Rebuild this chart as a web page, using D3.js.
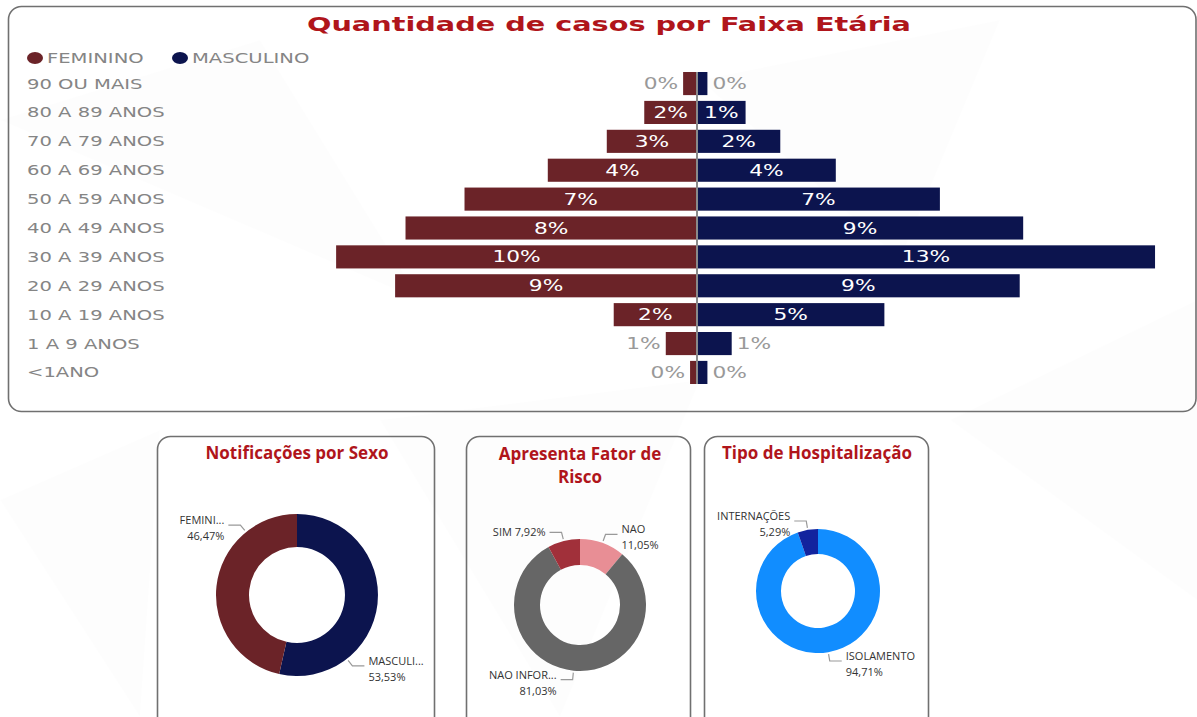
<!DOCTYPE html>
<html>
<head>
<meta charset="utf-8">
<script src="https://cdn.jsdelivr.net/npm/d3@7"></script>
<style>
  body { margin: 0; background: #fff; }
  svg { display: block; }
</style>
</head>
<body>
<script>
// pyramid data (percent of all cases)
var ageGroups = ['90 OU MAIS', '80 A 89 ANOS', '70 A 79 ANOS', '60 A 69 ANOS', '50 A 59 ANOS',
  '40 A 49 ANOS', '30 A 39 ANOS', '20 A 29 ANOS', '10 A 19 ANOS', '1 A 9 ANOS', '<1ANO']
var femPct = [0.4, 1.52, 2.6, 4.3, 6.7, 8.4, 10.4, 8.7, 2.4, 0.9, 0.2]
var mascPct = [0.3, 1.4, 2.4, 4.0, 7.0, 9.4, 13.2, 9.3, 5.4, 1.0, 0.3]
var sexSeries = ['FEMININO', 'MASCULINO']

// donut data
var sexNames = ['MASCULINO', 'FEMININO']
var sexShort = ['MASCULI...', 'FEMINI...']
var sexValues = [53.53, 46.47]

var riskNames = ['NAO', 'NAO INFORMADO', 'SIM']
var riskShort = ['NAO', 'NAO INFOR...', 'SIM']
var riskValues = [11.05, 81.03, 7.92]

var hospNames = ['ISOLAMENTO', 'INTERNAÇÕES']
var hospValues = [94.71, 5.29]

var FEM = '#6b2328', MASC = '#0c144e', TITLE = '#b0151b'
var W = 1197, H = 717

var svg = d3.select('body').append('svg').attr('width', W).attr('height', H)

// faint background shapes
var bg = svg.append('g').attr('fill', '#000')
;[[[0, 120], [260, 40], [420, 300]], [[700, 80], [1000, 20], [900, 260]], [[380, 420], [700, 380], [560, 717]],
  [[950, 420], [1197, 300], [1197, 600]], [[0, 500], [160, 430], [140, 717]]].forEach(function(p) {
  bg.append('polygon').attr('points', p.join(' ')).attr('opacity', 0.008)
})

function panel(x, y, w, h) {
  svg.append('rect')
    .attr('x', x).attr('y', y).attr('width', w).attr('height', h)
    .attr('rx', 13).attr('fill', 'none')
    .attr('stroke', '#707070').attr('stroke-width', 1.6)
}

// ---------- age pyramid ----------
panel(8.5, 6.5, 1187.5, 405)

svg.append('text')
  .attr('x', 307).attr('y', 31)
  .attr('textLength', 604).attr('lengthAdjust', 'spacingAndGlyphs')
  .attr('font-family', 'DejaVu Sans').attr('font-weight', 'bold').attr('font-size', 19)
  .attr('fill', TITLE)
  .text('Quantidade de casos por Faixa Etária')

var sx = 1.45
function wideText(g, x, y, txt, anchor, size, color) {
  return g.append('text')
    .attr('transform', 'translate(' + x + ',' + y + ') scale(' + sx + ',1)')
    .attr('text-anchor', anchor)
    .attr('font-family', 'DejaVu Sans').attr('font-size', size)
    .attr('fill', color)
    .text(txt)
}

// legend
var legend = svg.append('g')
var legendX = [35, 180]
sexSeries.forEach(function(s, i) {
  legend.append('ellipse').attr('cx', legendX[i]).attr('cy', 58).attr('rx', 8).attr('ry', 6)
    .attr('fill', i == 0 ? FEM : MASC)
  wideText(legend, legendX[i] + 12, 63, s, 'start', 13.5, '#858585')
})

var cx = 697
var y = d3.scaleBand().domain(ageGroups).range([72, 384]).paddingInner(0.2).paddingOuter(0)
var x = d3.scaleLinear().domain([0, 14]).range([0, 14 * 34.7])

var pyr = svg.append('g')

pyr.selectAll('text.cat')
  .data(ageGroups)
  .join(function(enter) { return enter.append('text') })
  .attr('class', 'cat')
  .attr('transform', function(d) { return 'translate(27,' + (y(d) + y.bandwidth() / 2 + 5) + ') scale(' + sx + ',1)' })
  .attr('font-family', 'DejaVu Sans').attr('font-size', 13.5)
  .attr('fill', '#858585')
  .text(function(d) { return d })

pyr.selectAll('rect.fem')
  .data(femPct)
  .join('rect')
  .attr('class', 'fem')
  .attr('x', function(d) { return cx - x(d) })
  .attr('y', function(d, i) { return y(ageGroups[i]) })
  .attr('width', function(d) { return x(d) })
  .attr('height', y.bandwidth())
  .attr('fill', FEM)

pyr.selectAll('rect.masc')
  .data(mascPct)
  .join('rect')
  .attr('class', 'masc')
  .attr('x', cx)
  .attr('y', function(d, i) { return y(ageGroups[i]) })
  .attr('width', function(d) { return x(d) })
  .attr('height', y.bandwidth())
  .attr('fill', MASC)

pyr.append('line')
  .attr('x1', cx).attr('x2', cx).attr('y1', 72).attr('y2', 384)
  .attr('stroke', '#8a8a8a').attr('stroke-width', 2)

function barLabels(values, side) {
  values.forEach(function(v, i) {
    var w = x(v)
    var inside = w > 40
    var ty = y(ageGroups[i]) + y.bandwidth() / 2 + 5.5
    var tx, anchor
    if (inside) { tx = cx + side * w / 2; anchor = 'middle' }
    else { tx = cx + side * (w + 5); anchor = side < 0 ? 'end' : 'start' }
    wideText(pyr, tx, ty, Math.round(v) + '%', anchor, 15, inside ? '#fff' : '#999')
  })
}
barLabels(femPct, -1)
barLabels(mascPct, 1)

// ---------- donuts ----------
var fmt = function(v) { return d3.format('.2f')(v).replace('.', ',') + '%' }
var rad = Math.PI / 180

function donut(opt) {
  var g = svg.append('g').attr('transform', 'translate(' + opt.cx + ',' + opt.cy + ')')
  var arcs = d3.pie().sort(null)(opt.values)
  var arc = d3.arc().innerRadius(opt.rIn).outerRadius(opt.rOut)
  g.selectAll('path')
    .data(arcs)
    .join('path')
    .attr('d', arc)
    .attr('fill', function(d, i) { return opt.colors[i] })

  arcs.forEach(function(a, i) {
    var ang = opt.angles && opt.angles[i] != null ? opt.angles[i] * rad : (a.startAngle + a.endAngle) / 2
    var r0 = opt.rOut + 2, r1 = opt.rOut + 9
    var p0 = [r0 * Math.sin(ang), -r0 * Math.cos(ang)]
    var p1 = [r1 * Math.sin(ang), -r1 * Math.cos(ang)]
    var dir = Math.sin(ang) >= 0 ? 1 : -1
    var p2 = [p1[0] + dir * 12, p1[1]]
    g.append('polyline')
      .attr('points', [p0, p1, p2].join(' '))
      .attr('fill', 'none').attr('stroke', '#999').attr('stroke-width', 1.2)
    var t = g.append('text')
      .attr('font-family', 'Open Sans').attr('font-size', 11).attr('fill', '#333')
      .attr('text-anchor', dir > 0 ? 'start' : 'end')
    var lx = p2[0] + dir * 4
    if (opt.oneLine && opt.oneLine[i]) {
      t.append('tspan').attr('x', lx).attr('y', p1[1] + 4).text(opt.labels[i] + ' ' + fmt(opt.values[i]))
    } else {
      t.append('tspan').attr('x', lx).attr('y', p1[1] - 1).text(opt.labels[i])
      t.append('tspan').attr('x', lx).attr('y', p1[1] + 15).text(fmt(opt.values[i]))
    }
  })
}

function cardTitle(lines, x, y0) {
  var t = svg.append('text')
    .attr('text-anchor', 'middle')
    .attr('font-family', 'Open Sans').attr('font-weight', 'bold').attr('font-size', 17)
    .attr('fill', TITLE)
  lines.forEach(function(l, i) {
    t.append('tspan').attr('x', x).attr('y', y0 + i * 23).text(l)
  })
}

panel(157.5, 436.5, 277, 300)
cardTitle(['Notificações por Sexo'], 297, 459)
donut({ cx: 297, cy: 595, rOut: 81, rIn: 48, values: sexValues, labels: sexShort,
  colors: [MASC, FEM], angles: [142, 321] })

panel(466.5, 436.5, 224, 300)
cardTitle(['Apresenta Fator de', 'Risco'], 580, 460)
donut({ cx: 580, cy: 605, rOut: 66, rIn: 40, values: riskValues, labels: riskShort,
  colors: ['#e88e95', '#666666', '#a1303a'], oneLine: [false, false, true] })

panel(704.5, 436.5, 224, 300)
cardTitle(['Tipo de Hospitalização'], 817, 459)
donut({ cx: 818, cy: 591, rOut: 62, rIn: 37, values: hospValues, labels: hospNames,
  colors: ['#118dff', '#12239e'] })
</script>
</body>
</html>
